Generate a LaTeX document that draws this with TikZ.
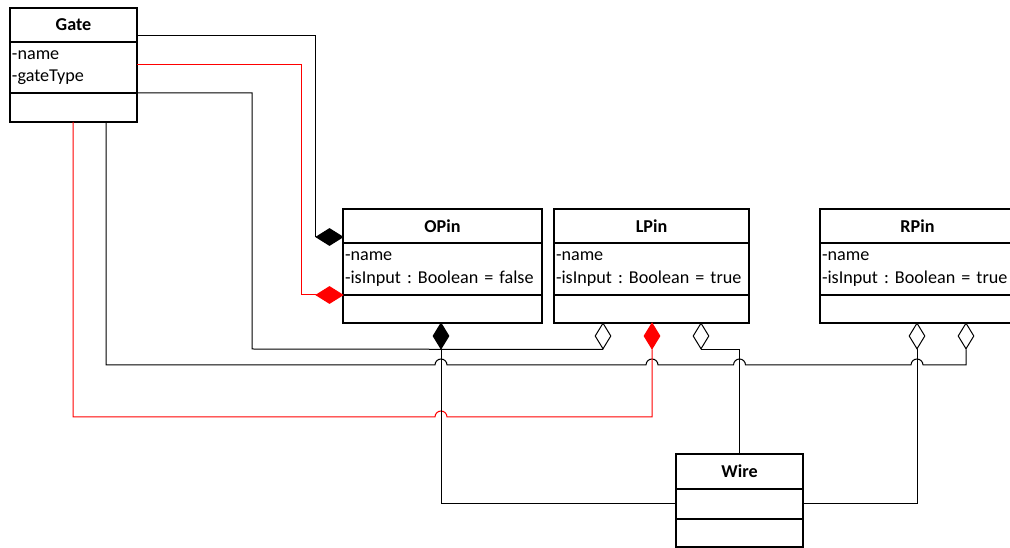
\documentclass[tikz,border=0pt]{standalone}
\usepackage{fontspec}
\setmainfont{Carlito}
\usepackage{tikz}
\usetikzlibrary{shapes.geometric, positioning}
\tikzstyle{classhead} = [rectangle, draw=black, line width=1.1pt, outer sep=0pt,
                         anchor=north west, minimum height=25.5pt,
                         font=\bfseries, text centered]
\tikzstyle{classattr} = [rectangle, draw=black, line width=1.1pt, outer sep=0pt,
                         inner xsep=1.5pt, inner ysep=0pt, minimum height=39pt,
                         align=left]
\tikzstyle{classops}  = [rectangle, draw=black, line width=1.1pt, outer sep=0pt,
                         minimum height=21pt]
\tikzstyle{comp}      = [diamond, draw=black, fill=black, inner sep=0pt,
                         line width=0.75pt]
\tikzstyle{compred}   = [diamond, draw=red, fill=red, inner sep=0pt,
                         line width=0.75pt]
\tikzstyle{aggr}      = [diamond, draw=black, fill=white, inner sep=0pt,
                         line width=0.75pt]
\tikzstyle{side}      = [minimum width=20.25pt, minimum height=12.75pt]
\tikzstyle{under}     = [minimum width=12pt, minimum height=19.5pt]
\tikzstyle{link}      = [line width=0.75pt]
\tikzstyle{redlink}   = [line width=0.75pt, color=red]
\tikzset{linehop/.style={insert path={arc[start angle=180, end angle=0, radius=4.5pt]}}}
\begin{document}
\fontsize{13.6}{17}\selectfont\frenchspacing
\begin{tikzpicture}[x=0.75pt, y=-0.75pt]
    \useasboundingbox (0,0) rectangle (1010,548);

    % ── Classes ─────────────────────────────────────────────────────────────
    \node (gate)     [classhead, minimum width=95.25pt] at (10,8) {Gate};
    \node (gateattr) [classattr, text width=92.25pt, minimum height=38.25pt,
                      below=0pt of gate] {\mbox{-name}\\\mbox{-gateType}};
    \node (gateops)  [classops, minimum width=95.25pt, minimum height=21.75pt,
                      below=0pt of gateattr] {};

    \node (opin)     [classhead, minimum width=149.25pt] at (343,209) {OPin};
    \node (opinattr) [classattr, text width=146.25pt, below=0pt of opin]
                     {\mbox{-name}\\\mbox{-isInput : Boolean = false}};
    \node (opinops)  [classops, minimum width=149.25pt, below=0pt of opinattr] {};

    \node (lpin)     [classhead, minimum width=146.25pt] at (554,209) {LPin};
    \node (lpinattr) [classattr, text width=143.25pt, below=0pt of lpin]
                     {\mbox{-name}\\\mbox{-isInput : Boolean = true}};
    \node (lpinops)  [classops, minimum width=146.25pt, below=0pt of lpinattr] {};

    \node (rpin)     [classhead, minimum width=146.25pt] at (820,209) {RPin};
    \node (rpinattr) [classattr, text width=143.25pt, below=0pt of rpin]
                     {\mbox{-name}\\\mbox{-isInput : Boolean = true}};
    \node (rpinops)  [classops, minimum width=146.25pt, below=0pt of rpinattr] {};

    \node (wire)     [classhead, minimum width=95.25pt, minimum height=26.25pt]
                     at (676,454) {Wire};
    \node (wireattr) [classops, minimum width=95.25pt, minimum height=22.5pt,
                      below=0pt of wire] {};
    \node (wireops)  [classops, minimum width=95.25pt, below=0pt of wireattr] {};

    % ── Diamonds ────────────────────────────────────────────────────────────
    \node (opinA) [comp,    side]  at (329.5,237) {};
    \node (opinB) [compred, side]  at (329.5,295) {};
    \node (opinC) [comp,    under] at (441,336)   {};
    \node (lpinA) [aggr,    under] at (603,336)   {};
    \node (lpinB) [compred, under] at (652,336)   {};
    \node (lpinC) [aggr,    under] at (701,336)   {};
    \node (rpinA) [aggr,    under] at (917,336)   {};
    \node (rpinB) [aggr,    under] at (966,336)   {};

    % ── Attach points ───────────────────────────────────────────────────────
    \coordinate (gA) at (137,36);
    \coordinate (gB) at (137,65);
    \coordinate (gC) at (137,93);
    \coordinate (gD) at (106,122);
    \coordinate (gE) at (73,122);
    \coordinate (bendB) at (301,295);
    \coordinate (bendC) at (252,349);

    % ── Gate links ──────────────────────────────────────────────────────────
    \draw [link]    (gA) -| (opinA.west);
    \draw [redlink] (gB) -| (bendB) -- (opinB.west);
    \draw [link]    (gC) -| (bendC) -- (lpinA.south);
    \draw [link]    (gD) |- (435,365) [linehop] -- (646,365) [linehop]
                    -- (733.5,365) [linehop] -- (911,365) [linehop] -| (rpinB.south);
    \draw [redlink] (gE) |- (435,417) [linehop] -| (lpinB.south);

    % ── Wire links ──────────────────────────────────────────────────────────
    \draw [link] (opinC.south) |- (wireattr.west);
    \draw [link] (lpinC.south) -| (wire.north);
    \draw [link] (rpinA.south) |- (wireattr.east);

\end{tikzpicture}
\end{document}
